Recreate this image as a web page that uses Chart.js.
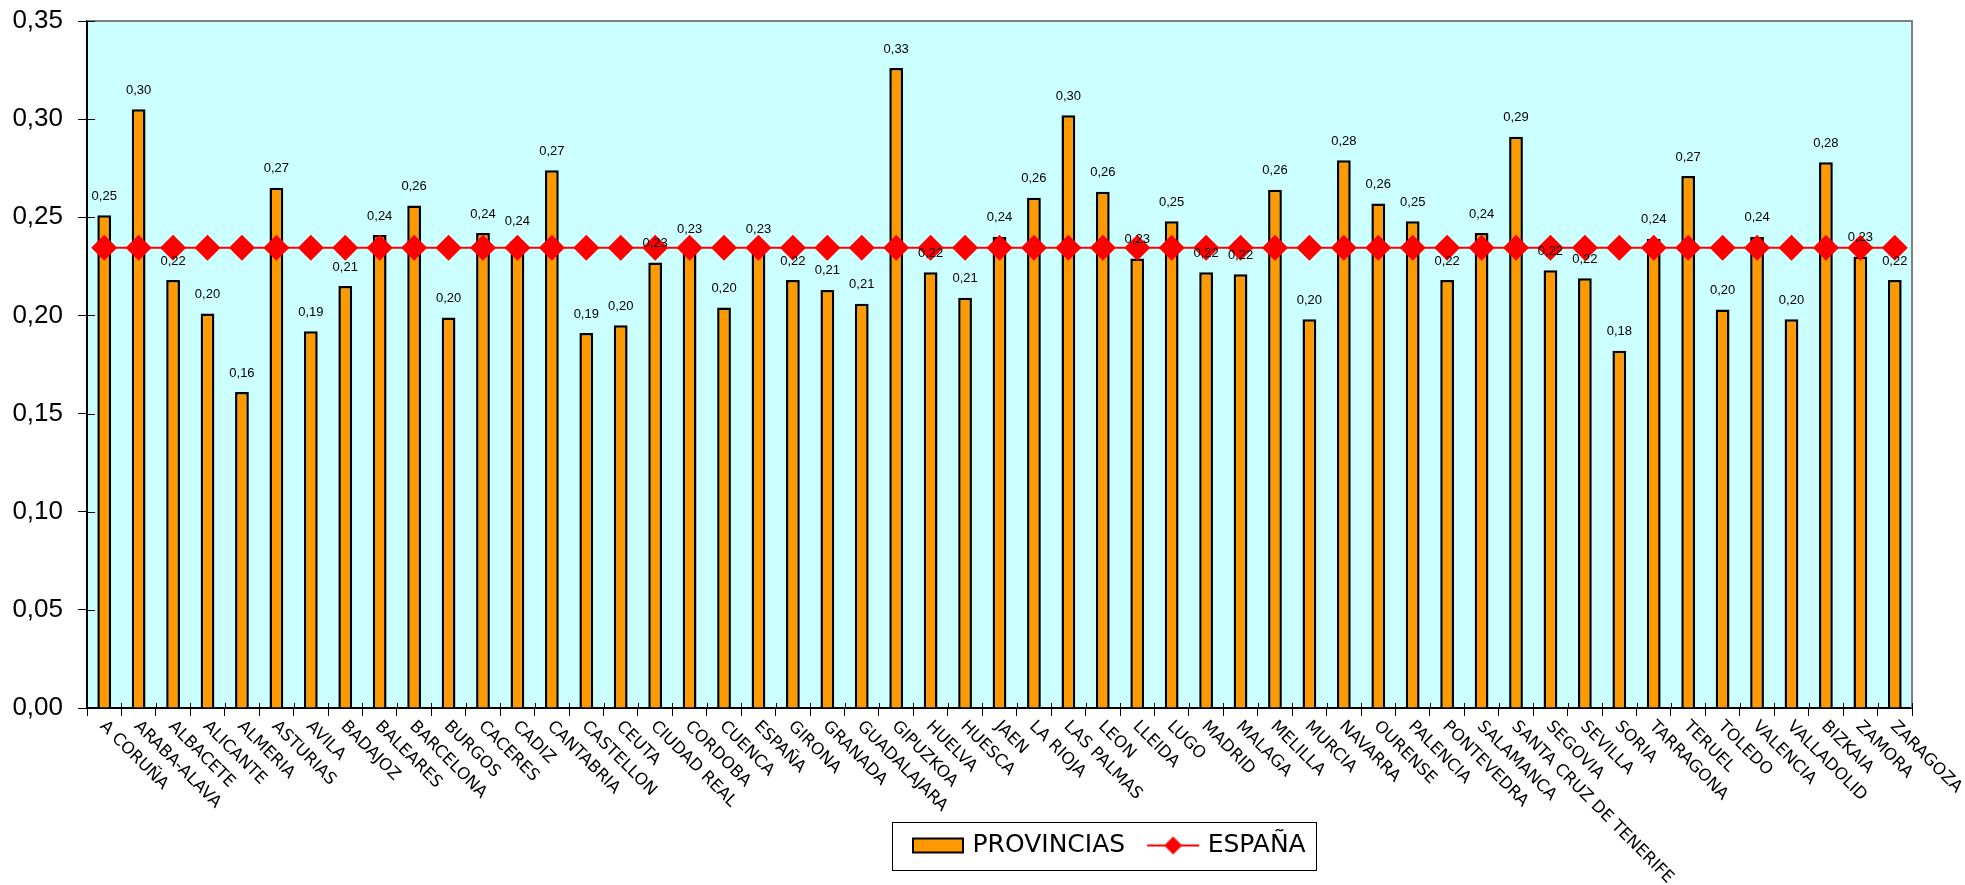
<!DOCTYPE html>
<html>
<head>
<meta charset="utf-8">
<script src="https://cdn.jsdelivr.net/npm/chart.js@4.4.1/dist/chart.umd.min.js"></script>
<style>
  html, body { margin: 0; padding: 0; background: #ffffff; }
  #wrap { width: 1965px; height: 885px; position: relative; }
</style>
</head>
<body>
<div id="wrap"><canvas id="grafico"></canvas></div>
<script>
// Categorías del eje X (orden del gráfico)
const provincias = [
    'A CORUÑA', 'ARABA-ALAVA', 'ALBACETE', 'ALICANTE', 'ALMERIA', 'ASTURIAS', 'AVILA',
    'BADAJOZ', 'BALEARES', 'BARCELONA', 'BURGOS', 'CACERES', 'CADIZ', 'CANTABRIA',
    'CASTELLON', 'CEUTA', 'CIUDAD REAL', 'CORDOBA', 'CUENCA', 'ESPAÑA', 'GIRONA',
    'GRANADA', 'GUADALAJARA', 'GIPUZKOA', 'HUELVA', 'HUESCA', 'JAEN', 'LA RIOJA',
    'LAS PALMAS', 'LEON', 'LLEIDA', 'LUGO', 'MADRID', 'MALAGA', 'MELILLA', 'MURCIA',
    'NAVARRA', 'OURENSE', 'PALENCIA', 'PONTEVEDRA', 'SALAMANCA', 'SANTA CRUZ DE TENERIFE',
    'SEGOVIA', 'SEVILLA', 'SORIA', 'TARRAGONA', 'TERUEL', 'TOLEDO', 'VALENCIA',
    'VALLADOLID', 'BIZKAIA', 'ZAMORA', 'ZARAGOZA'
];

// Serie de barras: PROVINCIAS
const valoresProvincias = [
    0.251, 0.305, 0.218, 0.201, 0.161, 0.265, 0.192,
    0.215, 0.241, 0.256, 0.199, 0.242, 0.238, 0.274,
    0.191, 0.195, 0.227, 0.234, 0.204, 0.234, 0.218,
    0.213, 0.206, 0.326, 0.222, 0.209, 0.240, 0.260,
    0.302, 0.263, 0.229, 0.248, 0.222, 0.221, 0.264, 0.198,
    0.279, 0.257, 0.248, 0.218, 0.242, 0.291,
    0.223, 0.219, 0.182, 0.239, 0.271, 0.203, 0.240,
    0.198, 0.278, 0.230, 0.218
];

// Serie de línea: ESPAÑA
const valoresEspana = [
    0.2345, 0.2345, 0.2345, 0.2345, 0.2345, 0.2345, 0.2345,
    0.2345, 0.2345, 0.2345, 0.2345, 0.2345, 0.2345, 0.2345,
    0.2345, 0.2345, 0.2345, 0.2345, 0.2345, 0.2345, 0.2345,
    0.2345, 0.2345, 0.2345, 0.2345, 0.2345, 0.2345, 0.2345,
    0.2345, 0.2345, 0.2345, 0.2345, 0.2345, 0.2345, 0.2345, 0.2345,
    0.2345, 0.2345, 0.2345, 0.2345, 0.2345, 0.2345,
    0.2345, 0.2345, 0.2345, 0.2345, 0.2345, 0.2345, 0.2345,
    0.2345, 0.2345, 0.2345, 0.2345
];

// Marcas del eje Y
const marcasY = [0, 0.05, 0.10, 0.15, 0.20, 0.25, 0.30, 0.35];

const nombresSeries = ['PROVINCIAS', 'ESPAÑA'];

/**
 * Formato con coma decimal
 * @param {Number} v
 */
function formato(v) {
    return v.toFixed(2).replace('.', ',');
}

// Símbolos de la leyenda
function simboloBarra() {
    const c = document.createElement('canvas');
    c.width = 52; c.height = 18;
    const g = c.getContext('2d');
    g.fillStyle = '#FF9900';
    g.fillRect(1, 2, 50, 14);
    g.lineWidth = 2;
    g.strokeStyle = '#000000';
    g.strokeRect(1, 2, 50, 14);
    return c;
}

function simboloLinea() {
    const c = document.createElement('canvas');
    c.width = 54; c.height = 20;
    const g = c.getContext('2d');
    g.strokeStyle = '#FF0000';
    g.lineWidth = 2;
    g.beginPath(); g.moveTo(1, 10); g.lineTo(53, 10); g.stroke();
    g.fillStyle = '#FF0000';
    g.beginPath();
    g.moveTo(27, 1); g.lineTo(36, 10); g.lineTo(27, 19); g.lineTo(18, 10);
    g.closePath(); g.fill();
    return c;
}

const iconos = [simboloBarra(), simboloLinea()];

// Fondo, marco, etiquetas y recuadro de la leyenda
const decoracion = {
    id: 'decoracion',
    beforeDraw(chart) {
        const {ctx, chartArea: a} = chart;
        ctx.save();
        ctx.fillStyle = '#CCFFFF';
        ctx.fillRect(a.left, a.top, a.right - a.left, a.bottom - a.top);
        ctx.restore();
    },
    afterUpdate(chart) {
        // mover la leyenda a su sitio
        const leyenda = chart.legend;
        const cajas = leyenda.legendHitBoxes;
        if (!cajas || !cajas.length) return;
        const shift = 916 - cajas[0].left;
        leyenda.left += shift;
        leyenda.right += shift;
        cajas.forEach(c => { c.left += shift; });
    },
    afterDatasetsDraw(chart) {
        const {ctx, chartArea: a} = chart;
        const meta = chart.getDatasetMeta(0);
        ctx.save();
        // marco gris arriba y a la derecha
        ctx.strokeStyle = '#808080';
        ctx.lineWidth = 2;
        ctx.beginPath();
        ctx.moveTo(a.left, a.top);
        ctx.lineTo(a.right, a.top);
        ctx.lineTo(a.right, a.bottom);
        ctx.stroke();

        // etiquetas de datos
        ctx.font = '13px "Liberation Sans", Arial, sans-serif';
        ctx.fillStyle = '#000000';
        ctx.textAlign = 'center';
        ctx.textBaseline = 'middle';
        meta.data.forEach((bar, i) => {
            ctx.fillText(formato(valoresProvincias[i]), bar.x, bar.y - 19);
        });
        ctx.restore();
    },
    afterDraw(chart) {
        const {ctx, chartArea: a} = chart;
        const xs = chart.scales.x;
        const ys = chart.scales.y;
        ctx.save();

        // marcas interiores de los ejes
        ctx.strokeStyle = '#000000';
        ctx.lineWidth = 1;
        ctx.beginPath();
        marcasY.forEach(v => {
            const y = Math.round(ys.getPixelForValue(v)) + 0.5;
            ctx.moveTo(a.left, y);
            ctx.lineTo(a.left + 8, y);
        });
        for (let k = 0; k <= provincias.length; k++) {
            const x = Math.round(xs.getPixelForValue(k - 0.5)) + 0.5;
            ctx.moveTo(x, a.bottom);
            ctx.lineTo(x, a.bottom - 5);
        }
        ctx.stroke();

        // etiquetas del eje X giradas 45 grados
        ctx.font = '16.7px "DejaVu Sans", Verdana, sans-serif';
        ctx.fillStyle = '#000000';
        ctx.textAlign = 'left';
        ctx.textBaseline = 'middle';
        provincias.forEach((p, i) => {
            const x = xs.getPixelForValue(i);
            ctx.save();
            ctx.translate(x - 2, a.bottom + 16);
            ctx.rotate(Math.PI / 4);
            ctx.fillText(p, 0, 0);
            ctx.restore();
        });

        // recuadro de la leyenda
        const cajas = chart.legend.legendHitBoxes;
        if (cajas && cajas.length) {
            const ultima = cajas[cajas.length - 1];
            const cy = cajas[0].top + cajas[0].height / 2;
            const izq = cajas[0].left - 24;
            const der = ultima.left + ultima.width + 10;
            ctx.strokeStyle = '#000000';
            ctx.lineWidth = 1;
            ctx.strokeRect(Math.round(izq) + 0.5, Math.round(cy - 24) + 0.5, Math.round(der - izq), 48);
        }
        ctx.restore();
    }
};

const ctx = document.getElementById('grafico').getContext('2d');

new Chart(ctx, {
    type: 'bar',
    data: {
        labels: provincias,
        datasets: [{
            type: 'bar',
            label: nombresSeries[0],
            data: valoresProvincias,
            backgroundColor: '#FF9900',
            borderColor: '#000000',
            borderWidth: 2.5,
            categoryPercentage: 1,
            barPercentage: 0.4,
            order: 1
        }, {
            type: 'line',
            label: nombresSeries[1],
            data: valoresEspana,
            borderColor: '#FF0000',
            borderWidth: 2,
            backgroundColor: '#FF0000',
            pointStyle: 'rectRot',
            pointRadius: 13,
            pointBorderWidth: 0,
            pointBackgroundColor: '#FF0000',
            pointBorderColor: '#FF0000',
            fill: false,
            tension: 0,
            order: 0
        }]
    },
    options: {
        responsive: true,
        maintainAspectRatio: false,
        animation: false,
        layout: {
            padding: { top: 21, right: 53, bottom: 17, left: 0 }
        },
        plugins: {
            tooltip: { enabled: false },
            legend: {
                position: 'bottom',
                labels: {
                    usePointStyle: true,
                    pointStyleWidth: 44,
                    boxHeight: 25,
                    padding: 26,
                    color: '#000000',
                    font: { family: '"DejaVu Sans", Verdana, sans-serif', size: 25 },
                    generateLabels() {
                        return nombresSeries.map((nombre, i) => ({
                            text: nombre,
                            pointStyle: iconos[i],
                            datasetIndex: i,
                            hidden: false,
                            lineWidth: 0,
                            fillStyle: 'transparent',
                            strokeStyle: 'transparent',
                            fontColor: '#000000'
                        }));
                    }
                }
            }
        },
        scales: {
            x: {
                offset: true,
                grid: { drawOnChartArea: false, drawTicks: true, tickLength: 8, color: '#000000', offset: true },
                border: { color: '#000000', width: 2 },
                ticks: { display: false },
                afterFit(scale) { scale.height = 99; }
            },
            y: {
                min: 0,
                max: 0.35,
                grid: { drawOnChartArea: false, drawTicks: true, tickLength: 9, color: '#000000' },
                border: { color: '#000000', width: 2 },
                ticks: {
                    color: '#000000',
                    padding: 15,
                    font: { family: '"Liberation Sans", Arial, sans-serif', size: 26 },
                    callback: v => formato(v)
                },
                afterBuildTicks(scale) { scale.ticks = marcasY.map(v => ({ value: v })); },
                afterFit(scale) {
                    scale.width = 87;
                    scale.paddingTop = 0;
                    scale.paddingBottom = 0;
                }
            }
        }
    },
    plugins: [decoracion]
});
</script>
</body>
</html>
